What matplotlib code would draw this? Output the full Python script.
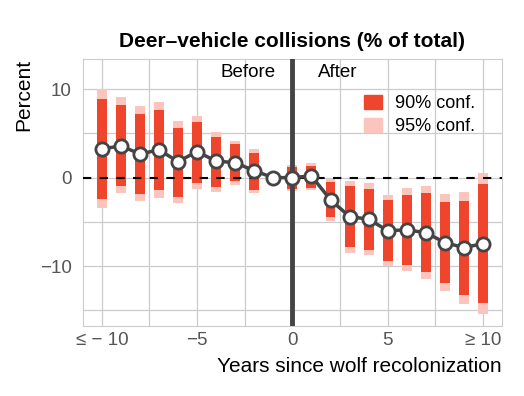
import matplotlib
matplotlib.use("Agg")
import matplotlib.pyplot as plt
from matplotlib.patches import Patch

plt.rcParams['font.family'] = ['Liberation Sans', 'DejaVu Sans']

# years since recolonization (ends are pooled: <= -10 and >= 10)
years = list(range(-10, 11))
estimate = [3.24, 3.58, 2.68, 3.13, 1.81, 2.94, 1.85, 1.70, 0.76, 0.0, 0.0,
            0.19, -2.52, -4.40, -4.70, -5.99, -5.91, -6.21, -7.34, -7.91, -7.46]
# None where the year is the reference (no interval)
ci90_lo = [-2.37, -0.94, -1.84, -1.39, -2.15, -0.64, -1.05, -0.37, -1.39, None, -1.24,
           -1.13, -4.47, -7.79, -8.17, -9.41, -9.83, -10.66, -11.86, -13.25, -14.12]
ci90_hi = [8.89, 8.21, 7.20, 7.68, 5.62, 6.29, 4.56, 3.81, 2.79, None, 1.21,
           1.32, -0.52, -0.94, -1.28, -2.52, -1.92, -1.73, -2.75, -2.63, -0.71]
ci95_lo = [-3.39, -1.77, -2.60, -2.26, -2.82, -1.24, -1.58, -0.79, -1.69, None, -1.47,
           -1.39, -4.89, -8.47, -8.70, -10.02, -10.51, -11.41, -12.77, -14.24, -15.44]
ci95_hi = [9.99, 9.08, 8.07, 8.52, 6.41, 6.94, 5.16, 4.15, 3.21, None, 1.43,
           1.62, -0.11, -0.41, -0.64, -1.99, -1.16, -0.94, -1.88, -1.62, 0.50]

x_ticks = [-10, -5, 0, 5, 10]
x_ticklabels = ['≤ − 10', '−5', '0', '5', '≥ 10']
y_ticks = [-10, 0, 10]

c90 = '#f0452d'
c95 = '#fbc5bd'
dark = '#444444'

fig = plt.figure(figsize=(5.24, 3.96), dpi=100)
ax = fig.add_axes([0.158, 0.176, 0.800, 0.675])

bw = 0.52
for x, l95, h95, l90, h90 in zip(years, ci95_lo, ci95_hi, ci90_lo, ci90_hi):
    if l95 is None:
        continue
    ax.bar(x, h95 - l95, bottom=l95, width=bw, color=c95, zorder=2)
    ax.bar(x, h90 - l90, bottom=l90, width=bw, color=c90, zorder=3)

ax.axhline(0, color='black', lw=1.5, ls=(0, (4, 4)), zorder=4)
ax.axvline(0, color=dark, lw=3.5, zorder=4)

ax.plot(years, estimate, color=dark, lw=2.5, zorder=5)
ax.plot(years, estimate, 'o', ms=9.5, mfc='white', mec=dark, mew=2, zorder=6)

ax.set_xlim(-11, 11)
ax.set_ylim(-16.8, 13.4)
ax.set_xticks(x_ticks)
ax.set_xticklabels(x_ticklabels)
ax.set_xticks([-7.5, -2.5, 2.5, 7.5], minor=True)
ax.set_yticks(y_ticks)
ax.set_yticklabels(['−10', '0', '10'])
ax.set_yticks([-15, -5, 5], minor=True)
ax.grid(True, which='both', color='#cccccc', lw=0.9, zorder=0)
ax.set_axisbelow(True)
ax.tick_params(which='both', length=0, labelsize=13.5, labelcolor='#555555')
ax.tick_params(axis='y', pad=8)
ax.tick_params(axis='x', pad=4)
for s in ax.spines.values():
    s.set_color('#cccccc')

ax.set_title('Deer\u2013vehicle collisions (% of total)', fontsize=15, fontweight='bold', pad=9)
ax.set_xlabel('Years since wolf recolonization', fontsize=15, loc='right', labelpad=6)
ax.set_ylabel('Percent', fontsize=15, loc='top', labelpad=5)

ax.text(-0.9, 11.9, 'Before', ha='right', va='center', fontsize=13.5)
ax.text(1.35, 11.9, 'After', ha='left', va='center', fontsize=13.5)

handles = [Patch(color=c90, label='90% conf.'), Patch(color=c95, label='95% conf.')]
ax.legend(handles=handles, loc='upper right', bbox_to_anchor=(0.975, 0.925), frameon=False,
          fontsize=13, handlelength=0.95, handleheight=0.8, handletextpad=0.75,
          labelspacing=0.3)

fig.savefig('out.png', dpi=100)
